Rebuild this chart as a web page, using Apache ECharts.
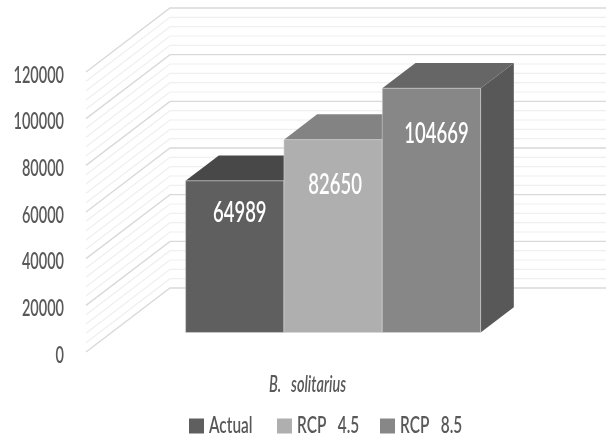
<!DOCTYPE html>
<html>
<head>
<meta charset="utf-8">
<style>html,body{margin:0;padding:0;background:#fff}#chart{width:606px;height:441px}</style>
<script src="https://cdn.jsdelivr.net/npm/echarts@6/dist/echarts.min.js"></script>
</head>
<body>
<div id="chart"></div>
<script>
// Projected abundance of B. solitarius under two climate scenarios.
const categories = ['B. solitarius'];
const seriesNames = ['Actual', 'RCP 4.5', 'RCP 8.5'];
const actualValues = [64989];
const rcp45Values = [82650];
const rcp85Values = [104669];
const yTickLabels = ['0', '20000', '40000', '60000', '80000', '100000', '120000'];
const wallLevels = [0, 4000, 8000, 12000, 16000, 20000, 24000, 28000, 32000, 36000, 40000, 44000,
  48000, 52000, 56000, 60000, 64000, 68000, 72000, 76000, 80000, 84000, 88000, 92000, 96000,
  100000, 104000, 108000, 112000, 116000, 120000];

// Oblique projection: how far the back wall sits from the front plane.
const WALL_DX = 84, WALL_DY = -64;
const BAR_NEAR = 0.305, BAR_FAR = 0.70;      // bar depth as a fraction of the floor
const BAND_FILL = 0.666;                     // share of the category band used by bars
const FONT = 'Lato, "Liberation Sans", sans-serif';
const WEIGHT = 600;
const TEXT = '#595959';
const TEXT_SQUEEZE = 0.66;                   // no condensed face is installed, so text is narrowed
const LEGEND_SQUEEZE = 0.70;
const TICK_LABEL_DROP = 3.5;                 // the face sits high in its line box
const WIDE_SPACE = '   ';                    // the labels are set with generous word gaps

const faces = [
  { front: '#5f5f5f', top: '#484848', side: '#404040' },
  { front: '#afafaf', top: '#838383', side: '#7a7a7a' },
  { front: '#878787', top: '#666666', side: '#585858' }
];
const labelShift = [[5, -44], [2, -51], [5, -76]];
const legendLefts = [189, 277, 380];

function renderWall(params, api) {
  const v = api.value(0);
  const y = api.coord([0, v])[1];
  const cs = params.coordSys;
  const x0 = cs.x, x1 = cs.x + WALL_DX, x2 = cs.x + cs.width + WALL_DX;
  const major = v % 20000 === 0;
  return {
    type: 'polyline',
    silent: true,
    shape: { points: [[x0, y], [x1, y + WALL_DY], [x2, y + WALL_DY]] },
    style: { fill: null, stroke: major ? '#d9d9d9' : '#efefef', lineWidth: major ? 1.4 : 1.2 }
  };
}

function barRenderer(index) {
  return function (params, api) {
    const v = api.value(1);
    const c = api.coord([api.value(0), v]);
    const base = api.coord([api.value(0), 0]);
    const band = api.size([1, 0])[0];
    const w = band * BAND_FILL / 3;
    const nx = WALL_DX * BAR_NEAR, ny = WALL_DY * BAR_NEAR;
    const bx = WALL_DX * (BAR_FAR - BAR_NEAR), by = WALL_DY * (BAR_FAR - BAR_NEAR);
    const left = c[0] - band * BAND_FILL / 2 + index * w + nx;
    const right = left + w;
    const top = c[1] + ny, bottom = base[1] + ny;
    const f = faces[index];
    const poly = (pts, fill) => ({
      type: 'polygon', shape: { points: pts }, style: { fill: fill }
    });
    return {
      type: 'group',
      children: [
        poly([[right, top], [right + bx, top + by], [right + bx, bottom + by], [right, bottom]], f.side),
        poly([[left, top], [left + bx, top + by], [right + bx, top + by], [right, top]], f.top),
        {
          type: 'rect',
          shape: { x: left, y: top, width: w, height: bottom - top },
          style: { fill: f.front, stroke: 'rgba(217,217,217,0.55)', lineWidth: 1 }
        },
        {
          type: 'text',
          x: (left + right) / 2 + labelShift[index][0],
          y: (top + bottom) / 2 + labelShift[index][1],
          style: {
            text: String(v),
            fill: '#ffffff',
            font: WEIGHT + ' 28px ' + FONT,
            align: 'center',
            verticalAlign: 'middle'
          }
        }
      ]
    };
  };
}

const valueLists = [actualValues, rcp45Values, rcp85Values];

const chart = echarts.init(document.getElementById('chart'), null, { renderer: 'canvas' });
chart.setOption({
  animation: false,
  backgroundColor: '#ffffff',
  grid: { left: 86, top: 72, width: 443, height: 280, outerBoundsMode: 'none' },
  // One legend per series so each entry keeps its own left edge once narrowed.
  legend: seriesNames.map((name, i) => ({
    data: [name],
    left: legendLefts[i],
    top: 415,
    padding: 0,
    icon: 'rect',
    itemWidth: 15,
    itemHeight: 15,
    formatter: (n) => n.replace(' ', WIDE_SPACE),
    textStyle: { color: TEXT, fontFamily: FONT, fontWeight: WEIGHT, fontSize: 22 }
  })),
  xAxis: {
    type: 'category',
    data: categories,
    axisLine: { show: false },
    axisTick: { show: false },
    axisLabel: {
      margin: 22,
      color: TEXT,
      fontFamily: FONT,
      fontWeight: WEIGHT,
      fontSize: 22,
      fontStyle: 'italic',
      formatter: (n) => n.replace(' ', WIDE_SPACE)
    }
  },
  yAxis: {
    type: 'value',
    min: 0,
    max: 120000,
    interval: 20000,
    axisLine: { show: false },
    axisTick: { show: false },
    splitLine: { show: false },
    axisLabel: {
      margin: 22,
      color: TEXT,
      fontFamily: FONT,
      fontWeight: WEIGHT,
      fontSize: 22,
      formatter: (val) => yTickLabels[Math.round(val / 20000)]
    }
  },
  series: [
    {
      type: 'custom',
      silent: true,
      clip: false,
      z: 1,
      renderItem: renderWall,
      encode: { y: 0 },
      data: wallLevels.map((v) => [v])
    }
  ].concat(seriesNames.map((name, i) => ({
    type: 'custom',
    name: name,
    clip: false,
    z: 2 + i,
    itemStyle: { color: faces[i].front },
    renderItem: barRenderer(i),
    encode: { x: 0, y: 1 },
    data: categories.map((c, k) => [k, valueLists[i][k]])
  })))
});

// Narrow every text element about its own anchor point.
const legendTexts = seriesNames.map((n) => n.replace(' ', WIDE_SPACE));
const zr = chart.getZr();
zr.storage.getRoots().forEach((root) => {
  const visit = (el) => {
    if (el.type === 'text') {
      const text = el.style && el.style.text;
      el.originX = (el.style && el.style.x) || 0;
      el.originY = (el.style && el.style.y) || 0;
      el.scaleX = legendTexts.includes(text) ? LEGEND_SQUEEZE : TEXT_SQUEEZE;
      if (yTickLabels.includes(text)) el.y += TICK_LABEL_DROP;
      el.markRedraw();
    }
  };
  visit(root);
  if (root.traverse) root.traverse(visit);
});
zr.refreshImmediately();
</script>
</body>
</html>
